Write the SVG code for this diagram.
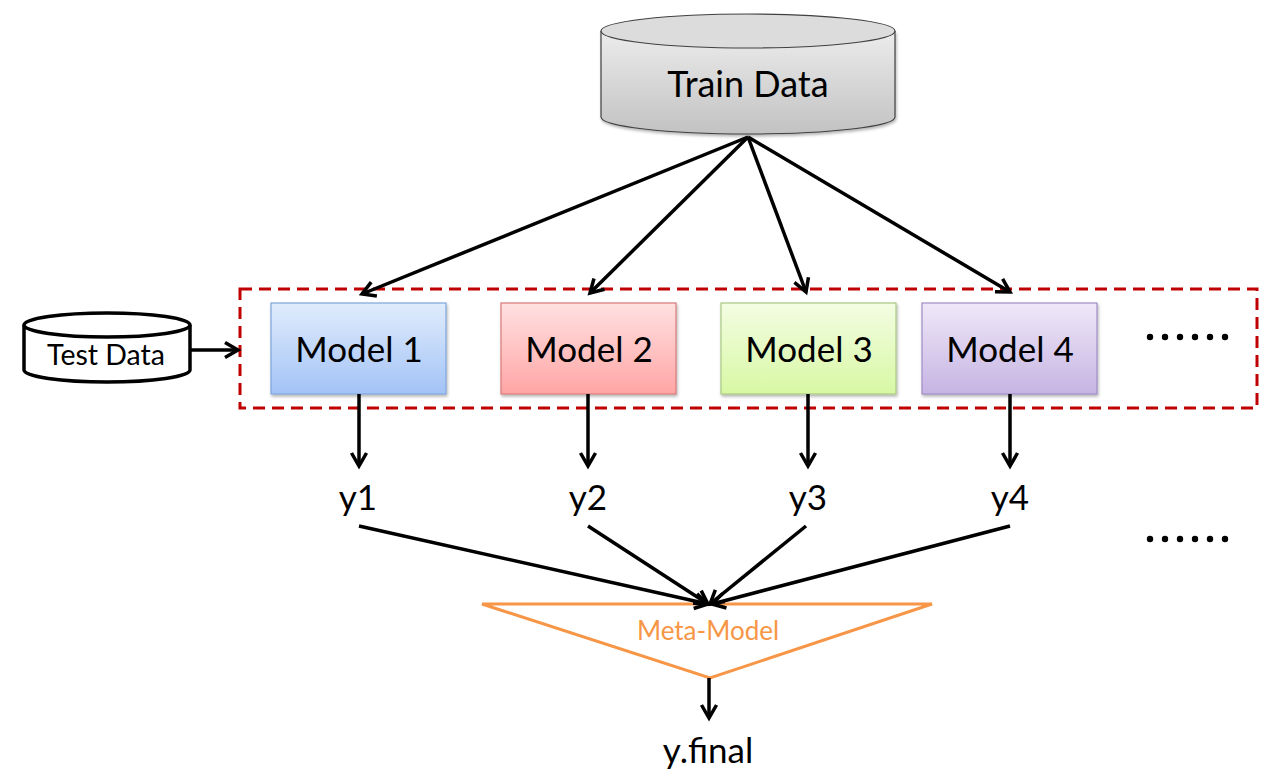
<svg xmlns="http://www.w3.org/2000/svg" width="1283" height="784" viewBox="0 0 1283 784">
<style>
text{font-family:Lato,"Open Sans","Liberation Sans",sans-serif;fill:#000;text-anchor:middle}
.conn{stroke:#000;stroke-width:3.5;fill:none;marker-end:url(#arr)}
.mlabel{font-size:35px}
.ylabel{font-size:35px}
</style>
<defs>
<marker id="arr" markerUnits="userSpaceOnUse" markerWidth="30" markerHeight="30" viewBox="-15 -15 30 30" refX="0" refY="0" orient="auto">
<path d="M-13,-7.5 L0,0 L-13,7.5" fill="none" stroke="#000" stroke-width="3.5" stroke-linejoin="miter"/>
</marker>
<linearGradient id="g1" x1="0" y1="0" x2="0" y2="1"><stop offset="0" stop-color="#e0ecfc"/><stop offset="1" stop-color="#a3c3f6"/></linearGradient>
<linearGradient id="g2" x1="0" y1="0" x2="0" y2="1"><stop offset="0" stop-color="#ffe1e1"/><stop offset="1" stop-color="#ffa5a5"/></linearGradient>
<linearGradient id="g3" x1="0" y1="0" x2="0" y2="1"><stop offset="0" stop-color="#f3fde3"/><stop offset="1" stop-color="#d8f8a4"/></linearGradient>
<linearGradient id="g4" x1="0" y1="0" x2="0" y2="1"><stop offset="0" stop-color="#efe8f8"/><stop offset="1" stop-color="#c6b4e3"/></linearGradient>
<linearGradient id="gcyl" x1="0" y1="0" x2="0" y2="1"><stop offset="0" stop-color="#ececec"/><stop offset="1" stop-color="#c2c2c2"/></linearGradient>
<filter id="sh" x="-10%" y="-10%" width="125%" height="130%"><feDropShadow dx="1" dy="2" stdDeviation="1.5" flood-color="#000" flood-opacity="0.3"/></filter>
</defs>

<g id="train-data">
<path d="M601,31 L601,117 A147,17 0 0 0 895,117 L895,31" fill="url(#gcyl)" stroke="#404040" stroke-width="1.2" filter="url(#sh)"/>
<ellipse cx="748" cy="31" rx="147" ry="17" fill="#dcdcdc" stroke="#404040" stroke-width="1.2"/>
<text x="748" y="97" font-size="36">Train Data</text>
</g>

<g id="test-data">
<path d="M24,325 L24,370 A83,12 0 0 0 190,370 L190,325" fill="#fff" stroke="#000" stroke-width="3.5"/>
<ellipse cx="107" cy="325" rx="83" ry="12" fill="#fff" stroke="#000" stroke-width="3.5"/>
<text x="106" y="365" font-size="28.5">Test Data</text>
</g>

<g id="model-group">
<rect x="240" y="289" width="1017" height="119" fill="none" stroke="#c00000" stroke-width="3" stroke-dasharray="12,7"/>
</g>

<g id="model1">
<rect x="271" y="303" width="175" height="91" fill="url(#g1)" stroke="#7ea6dc" stroke-width="1.2" filter="url(#sh)"/>
<text class="mlabel" x="359" y="362">Model 1</text>
</g>
<g id="model2">
<rect x="501" y="303" width="175" height="91" fill="url(#g2)" stroke="#d87a7a" stroke-width="1.2" filter="url(#sh)"/>
<text class="mlabel" x="589" y="362">Model 2</text>
</g>
<g id="model3">
<rect x="721" y="303" width="175" height="91" fill="url(#g3)" stroke="#a8c982" stroke-width="1.2" filter="url(#sh)"/>
<text class="mlabel" x="809" y="362">Model 3</text>
</g>
<g id="model4">
<rect x="922" y="303" width="175" height="91" fill="url(#g4)" stroke="#9f8cc6" stroke-width="1.2" filter="url(#sh)"/>
<text class="mlabel" x="1010" y="362">Model 4</text>
</g>

<g id="dots-top">
<g fill="#000">
<circle cx="1150" cy="337" r="3.2"/><circle cx="1165" cy="337" r="3.2"/><circle cx="1180" cy="337" r="3.2"/><circle cx="1195" cy="337" r="3.2"/><circle cx="1210" cy="337" r="3.2"/><circle cx="1225" cy="337" r="3.2"/>
</g>
</g>
<g id="dots-bottom">
<g fill="#000">
<circle cx="1150" cy="539" r="3.2"/><circle cx="1165" cy="539" r="3.2"/><circle cx="1180" cy="539" r="3.2"/><circle cx="1195" cy="539" r="3.2"/><circle cx="1210" cy="539" r="3.2"/><circle cx="1225" cy="539" r="3.2"/>
</g>
</g>

<g id="y1"><text class="ylabel" x="358" y="510">y1</text></g>
<g id="y2"><text class="ylabel" x="588" y="510">y2</text></g>
<g id="y3"><text class="ylabel" x="808" y="510">y3</text></g>
<g id="y4"><text class="ylabel" x="1010" y="510">y4</text></g>

<g id="meta-model">
<polygon points="482,604 932,604 710,678" fill="#fff" stroke="#f79646" stroke-width="3" stroke-linejoin="miter"/>
<text x="708" y="640" font-size="26" style="fill:#f79646">Meta-Model</text>
</g>

<g id="y-final"><text x="708" y="763" font-size="35">y.final</text></g>

<g id="connectors">
<line class="conn" x1="748" y1="137" x2="362" y2="294"/>
<line class="conn" x1="748" y1="137" x2="590" y2="293"/>
<line class="conn" x1="748" y1="137" x2="806" y2="292"/>
<line class="conn" x1="748" y1="137" x2="1010" y2="292"/>
<line class="conn" x1="190" y1="350" x2="238" y2="350"/>
<line class="conn" x1="359" y1="394" x2="359" y2="466"/>
<line class="conn" x1="588" y1="394" x2="588" y2="466"/>
<line class="conn" x1="808" y1="394" x2="808" y2="466"/>
<line class="conn" x1="1010" y1="394" x2="1010" y2="466"/>
<line class="conn" x1="359" y1="526" x2="708" y2="604"/>
<line class="conn" x1="588" y1="526" x2="708" y2="604"/>
<line class="conn" x1="806" y1="526" x2="710" y2="604"/>
<line class="conn" x1="1010" y1="526" x2="712" y2="604"/>
<line class="conn" x1="709" y1="678" x2="709" y2="718"/>
</g>
</svg>
